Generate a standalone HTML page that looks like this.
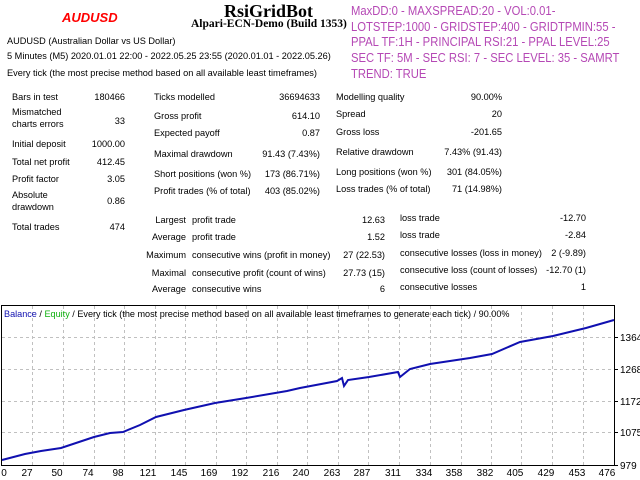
<!DOCTYPE html>
<html><head><meta charset="utf-8"><style>
body{margin:0;width:640px;height:480px;background:#fff;position:relative;overflow:hidden;font-family:"Liberation Sans",sans-serif;font-size:9.2px;color:#000}
.a{position:absolute;white-space:nowrap}
.r{text-align:right}
.p{position:absolute;left:351px;color:#b548b5;font-size:12.5px;white-space:nowrap;transform:scaleX(0.9);transform-origin:0 0}
</style></head><body>
<div class="a" style="left:224px;top:1px;font-family:'Liberation Serif',serif;font-weight:bold;font-size:18px">RsiGridBot</div>
<div class="a" style="left:191px;top:18px;font-family:'Liberation Serif',serif;font-weight:bold;font-size:11.5px">Alpari-ECN-Demo (Build 1353)</div>
<div class="a" style="left:62px;top:10px;color:#f00;font-style:italic;font-weight:bold;font-size:13px">AUDUSD</div>
<div class="p" style="top:4px">MaxDD:0 - MAXSPREAD:20 - VOL:0.01-</div>
<div class="p" style="top:20px">LOTSTEP:1000 - GRIDSTEP:400 - GRIDTPMIN:55 -</div>
<div class="p" style="top:35px">PPAL TF:1H - PRINCIPAL RSI:21 - PPAL LEVEL:25</div>
<div class="p" style="top:51px">SEC TF: 5M - SEC RSI: 7 - SEC LEVEL: 35 - SAMRT</div>
<div class="p" style="top:67px">TREND: TRUE</div>
<div class="a" style="left:7px;top:36px">AUDUSD (Australian Dollar vs US Dollar)</div>
<div class="a" style="left:7px;top:51px">5 Minutes (M5) 2020.01.01 22:00 - 2022.05.25 23:55 (2020.01.01 - 2022.05.26)</div>
<div class="a" style="left:7px;top:68px">Every tick (the most precise method based on all available least timeframes)</div>

<div class="a" style="left:12px;top:92px">Bars in test</div><div class="a r" style="left:60px;width:65px;top:92px">180466</div>
<div class="a" style="left:12px;top:106px;line-height:12px">Mismatched<br>charts errors</div><div class="a r" style="left:60px;width:65px;top:116px">33</div>
<div class="a" style="left:12px;top:139px">Initial deposit</div><div class="a r" style="left:60px;width:65px;top:139px">1000.00</div>
<div class="a" style="left:12px;top:157px">Total net profit</div><div class="a r" style="left:60px;width:65px;top:157px">412.45</div>
<div class="a" style="left:12px;top:174px">Profit factor</div><div class="a r" style="left:60px;width:65px;top:174px">3.05</div>
<div class="a" style="left:12px;top:189px;line-height:12px">Absolute<br>drawdown</div><div class="a r" style="left:60px;width:65px;top:196px">0.86</div>
<div class="a" style="left:12px;top:222px">Total trades</div><div class="a r" style="left:60px;width:65px;top:222px">474</div>

<div class="a" style="left:154px;top:92px">Ticks modelled</div><div class="a r" style="left:240px;width:80px;top:92px">36694633</div>
<div class="a" style="left:154px;top:111px">Gross profit</div><div class="a r" style="left:240px;width:80px;top:111px">614.10</div>
<div class="a" style="left:154px;top:128px">Expected payoff</div><div class="a r" style="left:240px;width:80px;top:128px">0.87</div>
<div class="a" style="left:154px;top:149px">Maximal drawdown</div><div class="a r" style="left:240px;width:80px;top:149px">91.43 (7.43%)</div>
<div class="a" style="left:154px;top:169px">Short positions (won %)</div><div class="a r" style="left:240px;width:80px;top:169px">173 (86.71%)</div>
<div class="a" style="left:154px;top:186px">Profit trades (% of total)</div><div class="a r" style="left:240px;width:80px;top:186px">403 (85.02%)</div>

<div class="a" style="left:336px;top:92px">Modelling quality</div><div class="a r" style="left:420px;width:82px;top:92px">90.00%</div>
<div class="a" style="left:336px;top:109px">Spread</div><div class="a r" style="left:420px;width:82px;top:109px">20</div>
<div class="a" style="left:336px;top:127px">Gross loss</div><div class="a r" style="left:420px;width:82px;top:127px">-201.65</div>
<div class="a" style="left:336px;top:147px">Relative drawdown</div><div class="a r" style="left:420px;width:82px;top:147px">7.43% (91.43)</div>
<div class="a" style="left:336px;top:167px">Long positions (won %)</div><div class="a r" style="left:420px;width:82px;top:167px">301 (84.05%)</div>
<div class="a" style="left:336px;top:184px">Loss trades (% of total)</div><div class="a r" style="left:420px;width:82px;top:184px">71 (14.98%)</div>

<div class="a r" style="left:130px;width:56px;top:215px">Largest</div><div class="a" style="left:192px;top:215px">profit trade</div><div class="a r" style="left:300px;width:85px;top:215px">12.63</div>
<div class="a r" style="left:130px;width:56px;top:232px">Average</div><div class="a" style="left:192px;top:232px">profit trade</div><div class="a r" style="left:300px;width:85px;top:232px">1.52</div>
<div class="a r" style="left:130px;width:56px;top:250px">Maximum</div><div class="a" style="left:192px;top:250px">consecutive wins (profit in money)</div><div class="a r" style="left:300px;width:85px;top:250px">27 (22.53)</div>
<div class="a r" style="left:130px;width:56px;top:268px">Maximal</div><div class="a" style="left:192px;top:268px">consecutive profit (count of wins)</div><div class="a r" style="left:300px;width:85px;top:268px">27.73 (15)</div>
<div class="a r" style="left:130px;width:56px;top:284px">Average</div><div class="a" style="left:192px;top:284px">consecutive wins</div><div class="a r" style="left:300px;width:85px;top:284px">6</div>

<div class="a" style="left:400px;top:213px">loss trade</div><div class="a r" style="left:500px;width:86px;top:213px">-12.70</div>
<div class="a" style="left:400px;top:230px">loss trade</div><div class="a r" style="left:500px;width:86px;top:230px">-2.84</div>
<div class="a" style="left:400px;top:248px">consecutive losses (loss in money)</div><div class="a r" style="left:500px;width:86px;top:248px">2 (-9.89)</div>
<div class="a" style="left:400px;top:265px">consecutive loss (count of losses)</div><div class="a r" style="left:500px;width:86px;top:265px">-12.70 (1)</div>
<div class="a" style="left:400px;top:282px">consecutive losses</div><div class="a r" style="left:500px;width:86px;top:282px">1</div>

<svg class="a" style="left:0;top:0" width="640" height="480">
<g stroke="#c0c0c0" stroke-dasharray="3,3" stroke-width="1">
<line x1="2" y1="337.5" x2="614" y2="337.5"/><line x1="2" y1="369.5" x2="614" y2="369.5"/><line x1="2" y1="401.5" x2="614" y2="401.5"/><line x1="2" y1="432.5" x2="614" y2="432.5"/>
<line x1="32.5" y1="306" x2="32.5" y2="465"/><line x1="63.5" y1="306" x2="63.5" y2="465"/><line x1="94.5" y1="306" x2="94.5" y2="465"/><line x1="124.5" y1="306" x2="124.5" y2="465"/><line x1="155.5" y1="306" x2="155.5" y2="465"/><line x1="185.5" y1="306" x2="185.5" y2="465"/><line x1="216.5" y1="306" x2="216.5" y2="465"/><line x1="246.5" y1="306" x2="246.5" y2="465"/><line x1="277.5" y1="306" x2="277.5" y2="465"/><line x1="307.5" y1="306" x2="307.5" y2="465"/><line x1="338.5" y1="306" x2="338.5" y2="465"/><line x1="368.5" y1="306" x2="368.5" y2="465"/><line x1="399.5" y1="306" x2="399.5" y2="465"/><line x1="430.5" y1="306" x2="430.5" y2="465"/><line x1="461.5" y1="306" x2="461.5" y2="465"/><line x1="491.5" y1="306" x2="491.5" y2="465"/><line x1="521.5" y1="306" x2="521.5" y2="465"/><line x1="552.5" y1="306" x2="552.5" y2="465"/><line x1="583.5" y1="306" x2="583.5" y2="465"/>
</g>
<rect x="1.5" y="305.5" width="613" height="160" fill="none" stroke="#000"/>
<g stroke="#000"><line x1="614" y1="337.5" x2="618" y2="337.5"/><line x1="614" y1="369.5" x2="618" y2="369.5"/><line x1="614" y1="401.5" x2="618" y2="401.5"/><line x1="614" y1="432.5" x2="618" y2="432.5"/><line x1="614" y1="465.5" x2="618" y2="465.5"/></g>
<polyline fill="none" stroke="#1010b0" stroke-width="2" points="2,460 25,454 41,451 61,448 94,437 110,433 123,432 140,425 156,417 184,410 215,403 246,398 287,391 300,388 337,381 342,378 344,386 348,380 369,377 398,372 400,377 410,369 430,364 470,358 492,354 520,342 553,336 586,328 614,320"/>
<g font-family="Liberation Sans,sans-serif" font-size="10" fill="#000">
<text x="620" y="341">1364</text><text x="620" y="373">1268</text><text x="620" y="405">1172</text><text x="620" y="436">1075</text><text x="620" y="469">979</text>
<g text-anchor="middle">
<text x="4" y="476">0</text><text x="27" y="476">27</text><text x="57" y="476">50</text><text x="88" y="476">74</text><text x="118" y="476">98</text><text x="148" y="476">121</text><text x="179" y="476">145</text><text x="209" y="476">169</text><text x="240" y="476">192</text><text x="271" y="476">216</text><text x="301" y="476">240</text><text x="332" y="476">263</text><text x="362" y="476">287</text><text x="393" y="476">311</text><text x="424" y="476">334</text><text x="454" y="476">358</text><text x="485" y="476">382</text><text x="515" y="476">405</text><text x="546" y="476">429</text><text x="577" y="476">453</text><text x="607" y="476">476</text>
</g>
<text x="4" y="317" font-size="9.1"><tspan fill="#1010b0">Balance</tspan> / <tspan fill="#10b010">Equity</tspan> / Every tick (the most precise method based on all available least timeframes to generate each tick) / 90.00%</text>
</g>
</svg>
</body></html>
